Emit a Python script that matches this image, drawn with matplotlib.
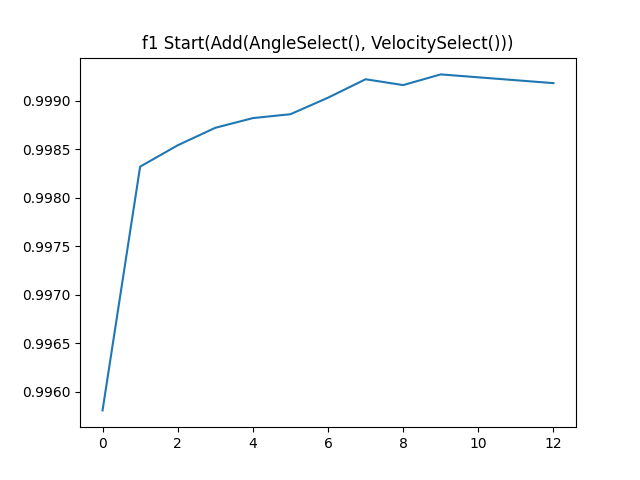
import matplotlib
matplotlib.use('Agg')
import matplotlib.pyplot as plt

epochs = list(range(13))
f1_scores = [0.99581, 0.99832, 0.99854, 0.99872, 0.99882, 0.99886, 0.99903,
             0.99922, 0.99916, 0.99927, 0.99924, 0.99921, 0.99918]

fig, ax = plt.subplots(figsize=(6.4, 4.8), dpi=100)
ax.plot(epochs, f1_scores)
ax.set_title('f1 Start(Add(AngleSelect(), VelocitySelect()))')
fig.savefig('out.png')
